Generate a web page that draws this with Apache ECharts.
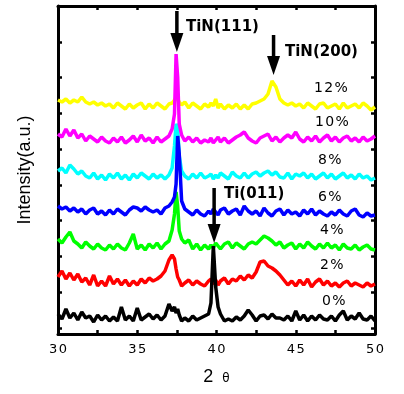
<!DOCTYPE html>
<html>
<head>
<meta charset="utf-8">
<script src="https://cdn.jsdelivr.net/npm/echarts@6.0.0/dist/echarts.min.js"></script>
<style>
  html, body { margin: 0; padding: 0; background: #fff; }
  #chart { width: 404px; height: 394px; }
</style>
</head>
<body>
<div id="chart"></div>
<script>
// 2-theta sample positions (degrees)
const xs = [
  30, 30.25, 30.5, 30.75, 31, 31.25, 31.5, 31.75, 32, 32.25, 32.5, 32.75, 33, 33.25, 33.5,
  33.75, 34, 34.25, 34.5, 34.75, 35, 35.25, 35.5, 35.75, 36, 36.25, 36.5, 36.75, 37,
  37.2, 37.35, 37.45, 37.55, 37.65, 37.8,
  38, 38.25, 38.5, 38.75, 39, 39.25, 39.5,
  39.65, 39.8, 39.95, 40.1,
  40.25, 40.5, 40.75, 41, 41.25, 41.5, 41.75, 42, 42.25, 42.5,
  42.75, 43, 43.25, 43.5, 43.75, 44, 44.25, 44.5, 44.75, 45,
  45.25, 45.5, 45.75, 46, 46.25, 46.5, 46.75, 47, 47.25, 47.5,
  47.75, 48, 48.25, 48.5, 48.75, 49, 49.25, 49.5, 49.75, 50
];

// intensities above each pattern's own baseline (arbitrary units)
const n0 = [
  3, -2, 8, -1, 4, -3, 5, -1, 1, -5, 2, -3, 1, -4, 0, -4, 10, -3, 1, -4, 9, -3, 0, 3, -2, 2, -3, 1, 13,
  6, 10, 4, 8, 2, -4,
  -1, -4, 1, -3, -1, 1, 3,
  14, 71, 30, 10,
  3, -4, -2, -4, 0, -3, 1, 7, 2, -4,
  1, 2, -2, 3, -1, -1, -3, 1, -4, 6,
  -3, 2, -4, 1, -3, 2, -2, -3, 1, -4,
  2, 6, -3, 1, -2, 4, -2, -3, 1, -4
];
const n2 = [
  5, 11, 3, 9, 2, 8, 0, 4, -3, 7, -4, 1, -4, 6, -2, 3, -3, 2, -4, 1, -3, 3, -1, 4, 1, 3, 6, 11, 22,
  27, 23, 13, 5, 2, -4,
  -1, 2, -3, 1, -2, -4, 1,
  3, -2, 2, -3,
  1, 4, -2, 3, 1, 6, 2, 7, 4, 10,
  20, 21, 16, 14, 11, 7, 2, -3, 1, -4,
  2, -3, 3, -5, 0, 3, -3, 1, -4, -1,
  -5, -1, 1, -4, -1, -3, -5, -1, -4, -2
];
const n4 = [
  7, 3, 9, 14, 5, 2, -2, 4, 0, -3, 2, -2, -4, 1, -3, 2, -2, -4, 3, 12, -3, 1, -4, 2, -2, 3, -3, 2, 5,
  16, 32, 54, 40, 15, 7,
  3, 6, -3, 2, -4, 1, -3,
  1, -2, 3, 0,
  -3, 2, 4, -2, 3, 0, -3, 2, 4, 2,
  6, 10, 8, 5, 1, 4, -2, 1, 3, -3,
  2, -2, 4, 0, -3, 2, -2, 3, -2, 1,
  -4, 2, -2, -3, 1, -4, -1, 1, -3, -4
];
const n6 = [
  6, 3, 5, 1, 4, 0, 3, -2, 2, 4, -2, 1, -3, 2, -2, 3, 0, -3, 2, 5, 4, 1, 5, 2, 0, 2, -2, 4, 6,
  10, 15, 28, 76, 58, 11,
  3, 0, -3, 2, -2, -4, 1,
  -2, 3, 0, -3,
  2, 4, -2, 1, 3, -3, 6, 1, -2, 1,
  -4, 4, -1, -4, 1, 3, -3, 2, -2, 0,
  -4, 2, -2, 3, -3, 1, -2, -4, 0, -3,
  2, -2, -4, 1, 3, -3, -5, -1, -4, -3
];
const n8 = [
  5, 8, 3, 11, 7, 2, 5, 0, -2, 3, -3, 1, -4, 2, -2, 3, -3, 1, -4, 2, -2, 3, 0, -3, 2, -2, 1, -3, 1,
  8, 30, 52, 48, 20, 5,
  0, -3, 2, -2, 3, -2, 0,
  2, -3, 1, -2,
  3, 0, -3, 4, 0, -2, 3, -2, 2, 4,
  0, 3, 5, 1, 4, -1, -2, 3, -3, 2,
  0, 3, -2, 2, -3, 0, 3, -2, 2, -3,
  0, 3, -2, 1, -3, 2, -2, 0, -4, -2
];
const n10 = [
  5, 2, 10, 3, 9, 1, 5, -2, 3, 0, -3, 2, -2, -4, 1, -3, 2, -4, -1, 3, -3, 4, -2, 1, -4, 2, -3, 0, 3,
  10, 25, 85, 62, 15, 4,
  -2, 2, -3, 1, -4, -1, -3,
  1, -4, -1, 2,
  -3, 1, -4, -1, 2, 4, 7, 1, -2, -4,
  1, 3, 5, -2, 2, -3, 1, 4, 1, 7,
  0, -3, 2, -2, 3, -3, 1, 4, -2, 2,
  -3, 1, 3, -2, 1, -3, 2, -2, 0, 3
];
const n12 = [
  6, 4, 7, 3, 6, 4, 9, 4, 2, 4, 1, 3, 0, 2, -2, 3, 0, -3, 2, -2, 1, 3, -3, 2, -2, 3, 0, -3, 2,
  3, 6, 9, 7, 4, 1,
  4, -2, 3, 0, -3, 2, -1,
  3, 0, 7, -2,
  2, -3, 1, -2, 2, -3, 1, -3, 2, 3,
  5, 7, 12, 25, 19, 7, 3, 1, 3, 0,
  2, -2, 3, 0, -3, 2, 3, -2, 0, 2,
  -3, 3, -2, 0, 2, -2, 3, 0, -4, -1
];

// N2 content labels, stacking offsets and colours, same order
const contents = ['0%', '2%', '4%', '6%', '8%', '10%', '12%'];
const patterns = [n0, n2, n4, n6, n8, n10, n12];
const offsets = [17, 52, 88, 122, 158, 195, 228];
const colors = ['#000000', '#ff0000', '#00ff00', '#0000ff', '#00ffff', '#ff00ff', '#ffff00'];
// drawing order (later = on top)
const drawOrder = [6, 4, 2, 1, 0, 3, 5];

// peak markers: [label, 2theta, arrow top, arrow tip]
const peaks = [
  ['TiN(111)', 37.5, 323, 282],
  ['TiN(200)', 43.6, 299, 259],
  ['Ti(011)', 39.85, 146, 91]
];

const xTicks = [30, 35, 40, 45, 50];

const chart = echarts.init(document.getElementById('chart'), null, { renderer: 'canvas' });

const spaced = s => String(s).split('').join('\u200a');

const lineSeries = drawOrder.map(i => ({
  type: 'line',
  name: contents[i],
  showSymbol: false,
  silent: true,
  data: xs.map((x, k) => [x, patterns[i][k] + offsets[i]]),
  lineStyle: { color: colors[i], width: 3.5, join: 'bevel' },
  itemStyle: { color: colors[i] }
}));

const arrowSeries = {
  type: 'custom',
  silent: true,
  data: peaks.map(p => [p[1], p[2], p[3]]),
  renderItem: (params, api) => {
    const top = api.coord([api.value(0), api.value(1)]);
    const tip = api.coord([api.value(0), api.value(2)]);
    const headH = 19, headW = 6.5;
    return {
      type: 'group',
      children: [
        { type: 'line', shape: { x1: top[0], y1: top[1], x2: tip[0], y2: tip[1] - headH + 1 },
          style: { stroke: '#000', lineWidth: 3.5 } },
        { type: 'polygon', shape: { points: [[tip[0] - headW, tip[1] - headH], [tip[0] + headW, tip[1] - headH], [tip[0], tip[1]]] },
          style: { fill: '#000' } }
      ]
    };
  },
  z: 10
};

const labelFont = 'DejaVu Sans';
const pctPos = [[322, 301], [320, 265], [320, 230], [318, 197], [318, 160], [315, 122], [314, 88]];
const peakPos = [[186, 27], [285, 52], [224, 194]];

const graphics = [];
contents.forEach((c, i) => {
  graphics.push({
    type: 'text', x: pctPos[i][0], y: pctPos[i][1], silent: true,
    style: { text: spaced(c), font: '14px ' + labelFont, fill: '#000', textVerticalAlign: 'middle', verticalAlign: 'middle' }
  });
});
peaks.forEach((p, i) => {
  graphics.push({
    type: 'text', x: peakPos[i][0], y: peakPos[i][1], silent: true,
    style: { text: p[0], font: 'bold 15px ' + labelFont, fill: '#000', textVerticalAlign: 'middle', verticalAlign: 'middle' }
  });
});

const frameLine = { lineStyle: { color: '#000', width: 3 } };
const tickStyle = { inside: true, length: 4, lineStyle: { color: '#000', width: 2.5 } };

const option = {
  animation: false,
  backgroundColor: '#fff',
  grid: { left: 58, right: 29, top: 6, bottom: 60 },
  xAxis: [
    {
      type: 'value', min: 30, max: 50, interval: 2.5, position: 'bottom',
      axisLine: frameLine, axisTick: tickStyle, splitLine: { show: false },
      axisLabel: {
        formatter: v => (xTicks.indexOf(v) >= 0 ? spaced(v) : ''),
        fontFamily: labelFont, fontSize: 13, color: '#000', margin: 9
      },
      name: '{a|2}{s| }{b|\u03b8}', nameLocation: 'middle', nameGap: 34,
      nameTextStyle: {
        rich: {
          a: { fontFamily: 'Liberation Sans', fontSize: 18, lineHeight: 18, color: '#000', verticalAlign: 'bottom' },
          s: { fontFamily: 'Liberation Sans', fontSize: 18, lineHeight: 18, width: 9 },
          b: { fontFamily: 'DejaVu Sans', fontSize: 12, lineHeight: 18, color: '#000', verticalAlign: 'bottom', padding: [0, 0, 1, 0] }
        }
      }
    },
    {
      type: 'value', min: 30, max: 50, interval: 2.5, position: 'top',
      axisLine: frameLine, axisTick: tickStyle, splitLine: { show: false },
      axisLabel: { show: false }
    }
  ],
  yAxis: [
    { type: 'value', min: 0, max: 328, show: false },
    {
      type: 'value', min: 0, max: 9.17, interval: 1, inverse: true, position: 'left',
      axisLine: frameLine, axisTick: tickStyle, axisLabel: { show: false }, splitLine: { show: false },
      name: 'Intensity(a.u.)', nameLocation: 'middle', nameGap: 24,
      nameTextStyle: { fontFamily: 'Liberation Sans', fontSize: 18, color: '#000' }
    },
    {
      type: 'value', min: 0, max: 9.17, interval: 1, inverse: true, position: 'right',
      axisLine: frameLine, axisTick: tickStyle, axisLabel: { show: false }, splitLine: { show: false }
    }
  ],
  series: [...lineSeries, arrowSeries],
  graphic: graphics
};

chart.setOption(option);
</script>
</body>
</html>
